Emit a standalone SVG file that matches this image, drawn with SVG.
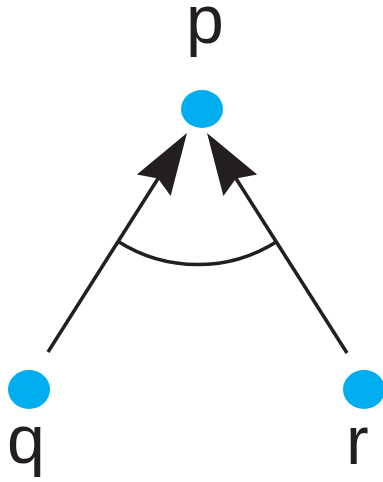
<svg xmlns="http://www.w3.org/2000/svg" width="383" height="482" viewBox="0 0 383 482">
  <style>
    .dot { fill: #00aeef; }
    .lbl { font-family: "Liberation Sans", Arial, sans-serif; font-size: 68px; fill: #231f20; }
    .edge { stroke: #231f20; stroke-width: 3.5; fill: none; }
  </style>
  <defs>
    <marker id="arrow" markerUnits="userSpaceOnUse" markerWidth="100" markerHeight="100" refX="0" refY="0" orient="auto" overflow="visible">
      <path d="M30,0 L-32,-20 L-24,0 L-32,20 Z" fill="#231f20"/>
    </marker>
  </defs>
  <rect width="383" height="482" fill="#ffffff"/>
  <g id="connectors">
    <line class="edge" x1="48" y1="352" x2="170.9" y2="158.3" marker-end="url(#arrow)"/>
    <line class="edge" x1="347" y1="353" x2="223.1" y2="158.3" marker-end="url(#arrow)"/>
    <path class="edge" d="M118.2,241.5 A148,148 0 0 0 277,241.4"/>
  </g>
  <g id="node-p">
    <ellipse class="dot" cx="202" cy="109" rx="21" ry="19"/>
    <text class="lbl" x="186" y="43">p</text>
  </g>
  <g id="node-q">
    <ellipse class="dot" cx="29" cy="389.5" rx="21" ry="19.5"/>
    <text class="lbl" x="7" y="463">q</text>
  </g>
  <g id="node-r">
    <ellipse class="dot" cx="364" cy="389.5" rx="21" ry="19.5"/>
    <text class="lbl" x="346" y="464">r</text>
  </g>
</svg>
